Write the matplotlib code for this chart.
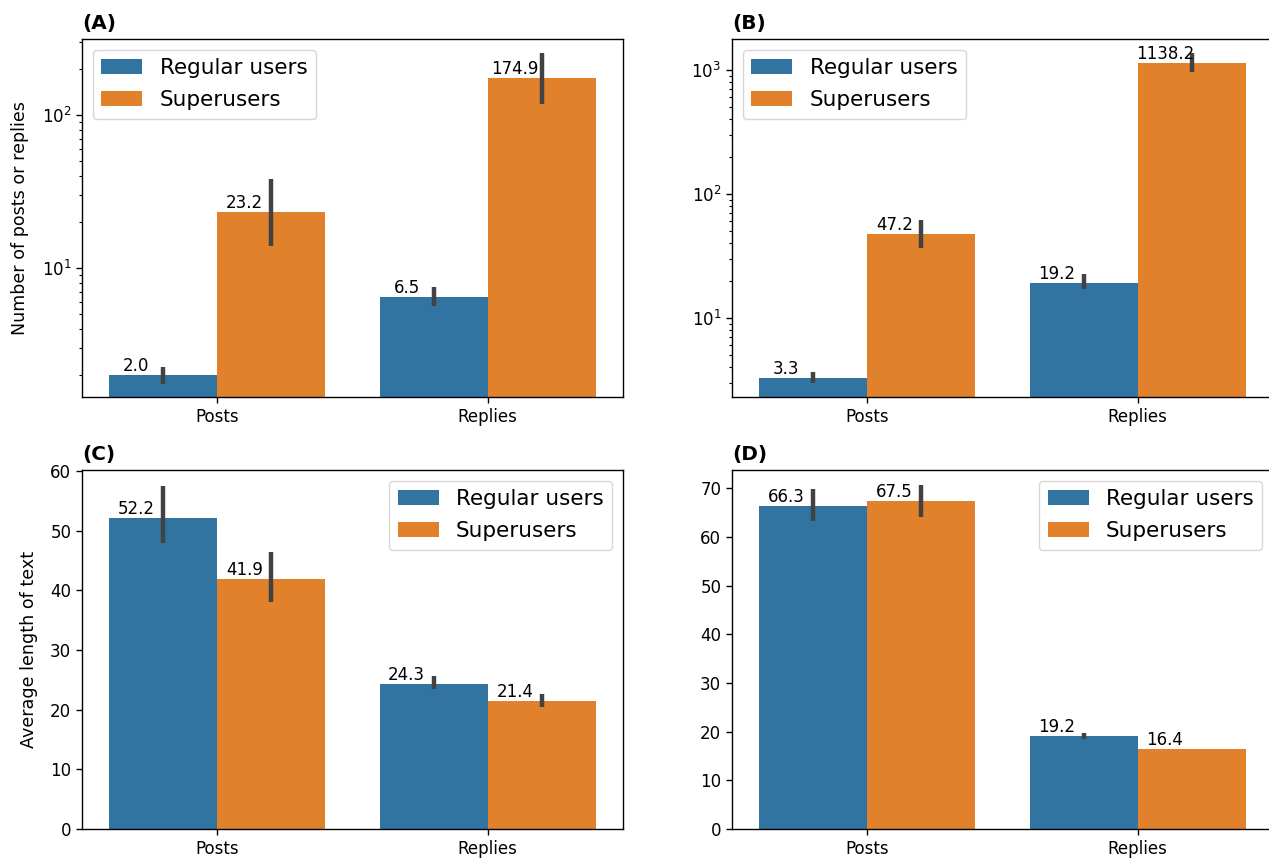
import matplotlib
matplotlib.use('Agg')
import matplotlib.pyplot as plt
import numpy as np

categories = ['Posts', 'Replies']
groups = ['Regular users', 'Superusers']
colors = ['#3274a1', '#e1812c']

# Panel A: number of posts/replies (log scale)
a_regular = [2.0, 6.5]
a_super = [23.2, 174.9]
a_regular_lo = [1.75, 5.65]
a_regular_hi = [2.25, 7.5]
a_super_lo = [13.9, 118.0]
a_super_hi = [38.2, 254.0]

# Panel B: number of posts/replies (log scale)
b_regular = [3.3, 19.2]
b_super = [47.2, 1138.2]
b_regular_lo = [2.97, 17.1]
b_regular_hi = [3.64, 22.5]
b_super_lo = [36.3, 963.0]
b_super_hi = [61.0, 1362.0]

# Panel C: average length of text
c_regular = [52.2, 24.3]
c_super = [41.9, 21.4]
c_regular_lo = [47.9, 23.4]
c_regular_hi = [57.6, 25.6]
c_super_lo = [38.0, 20.5]
c_super_hi = [46.4, 22.6]

# Panel D: average length of text
d_regular = [66.3, 19.2]
d_super = [67.5, 16.4]
d_regular_lo = [63.3, 18.6]
d_regular_hi = [69.85, 19.8]
d_super_lo = [64.2, 16.4]
d_super_hi = [70.7, 16.4]

plt.rcParams['axes.linewidth'] = 1.0
plt.rcParams['xtick.labelsize'] = 12
plt.rcParams['ytick.labelsize'] = 12
plt.rcParams['xtick.major.width'] = 1.0
plt.rcParams['ytick.major.width'] = 1.0
plt.rcParams['xtick.major.size'] = 4.2
plt.rcParams['ytick.major.size'] = 4.2
plt.rcParams['ytick.minor.size'] = 2.4
plt.rcParams['ytick.minor.width'] = 0.8

W, H = 1269, 859
fig = plt.figure(figsize=(W / 100, H / 100), dpi=100)

def pos(l, t, w, h):
    return [l / W, 1 - (t + h) / H, w / W, h / H]

panels = [
    dict(rect=pos(82, 39, 541, 358), title='(A)', log=True, ylim=(1.44, 314),
         vals=[a_regular, a_super], lo=[a_regular_lo, a_super_lo], hi=[a_regular_hi, a_super_hi],
         ylabel='Number of posts or replies', legloc='upper left'),
    dict(rect=pos(732, 39, 541, 358), title='(B)', log=True, ylim=(2.30, 1774),
         vals=[b_regular, b_super], lo=[b_regular_lo, b_super_lo], hi=[b_regular_hi, b_super_hi],
         ylabel=None, legloc='upper left'),
    dict(rect=pos(82, 470, 541, 359), title='(C)', log=False, ylim=(0, 60.2),
         vals=[c_regular, c_super], lo=[c_regular_lo, c_super_lo], hi=[c_regular_hi, c_super_hi],
         ylabel='Average length of text', legloc='upper right'),
    dict(rect=pos(732, 470, 541, 359), title='(D)', log=False, ylim=(0, 73.8),
         vals=[d_regular, d_super], lo=[d_regular_lo, d_super_lo], hi=[d_regular_hi, d_super_hi],
         ylabel=None, legloc='upper right'),
]

x = np.arange(len(categories))
bw = 0.4
for p in panels:
    ax = fig.add_axes(p['rect'])
    if p['log']:
        ax.set_yscale('log')
    for gi, (g, c) in enumerate(zip(groups, colors)):
        offs = (gi - 0.5) * bw
        bars = ax.bar(x + offs, p['vals'][gi], width=bw, color=c, label=g, linewidth=0)
        ax.vlines(x + offs, p['lo'][gi], p['hi'][gi], color='#424242', linewidth=3.2, zorder=3)
        for rect, v in zip(bars, p['vals'][gi]):
            ax.text(rect.get_x() + rect.get_width() / 4, v, f'{v:.1f}',
                    ha='center', va='bottom', fontsize=12)
    ax.set_xlim(-0.5, 1.5)
    ax.set_ylim(*p['ylim'])
    ax.set_xticks(x)
    ax.set_xticklabels(categories)
    if p['ylabel']:
        ax.set_ylabel(p['ylabel'], fontsize=12.6, labelpad=9)
    ax.set_title(p['title'], loc='left', fontweight='bold', fontsize=14.4, pad=7)
    ax.legend(loc=p['legloc'], fontsize=15.5, labelspacing=0.55, handlelength=1.9)

fig.savefig('out.png', dpi=100)
